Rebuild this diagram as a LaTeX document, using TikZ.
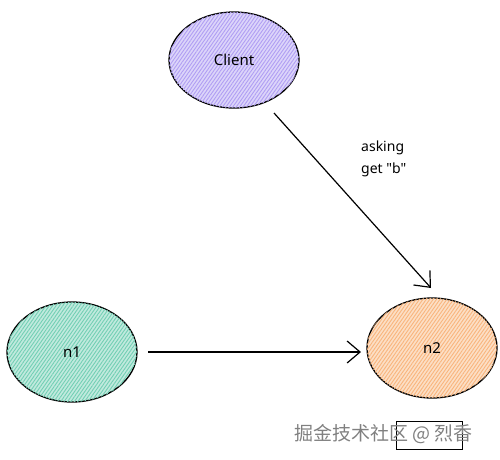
\documentclass[tikz,border=0pt]{standalone}
\usepackage{fontspec}
\setmainfont{Noto Sans}[Ligatures=TeXOff]
\newfontfamily\cjk{Noto Sans CJK SC}
\usetikzlibrary{shapes.geometric,arrows.meta,patterns.meta}
\definecolor{cpurple}{HTML}{9C86F0}
\definecolor{cgreen}{HTML}{4FC3A1}
\definecolor{corange}{HTML}{F7A35C}
\tikzset{
  blob/.style={ellipse, draw=black, line width=1.3pt, font=\fontsize{15}{17}\selectfont, inner sep=0pt},
  hatch/.style={fill=#1!35, postaction={pattern={Lines[angle=55,distance=2.8pt,line width=0.9pt]}, pattern color=#1!80}},
  conn/.style={line width=1.2pt, -{Straight Barb[length=13pt,width=22pt,line width=1.2pt]}},
}
\begin{document}
\begin{tikzpicture}[x=1pt,y=-1pt]
\useasboundingbox (0,0) rectangle (500,459);
\node[blob, hatch=cpurple, minimum width=130pt, minimum height=96pt] (client) at (234,60) {Client};
\node[blob, hatch=cgreen, minimum width=130pt, minimum height=100pt] (n1) at (72,352) {n1};
\node[blob, hatch=corange, minimum width=130pt, minimum height=100pt] (n2) at (432,348) {n2};
\coordinate (s1) at (274,113);
\coordinate (e1) at (431,288);
\coordinate (s2) at (148,352);
\coordinate (e2) at (361,352);
\draw[conn] (s1) -- (e1);
\draw[conn] (s2) -- (e2);
\node[anchor=north west, align=left, font=\fontsize{14}{22}\selectfont, inner sep=0pt] (lab) at (361,141) {asking\\get "b"};
\node[draw=black, line width=1pt, minimum width=66pt, minimum height=28pt, inner sep=0pt] (box) at (429,435) {};
\node[anchor=west, text=gray, font=\cjk\fontsize{19}{20}\selectfont, inner sep=0pt] (wm) at (294,434) {掘金技术社区 @ 烈香};
\end{tikzpicture}
\end{document}
